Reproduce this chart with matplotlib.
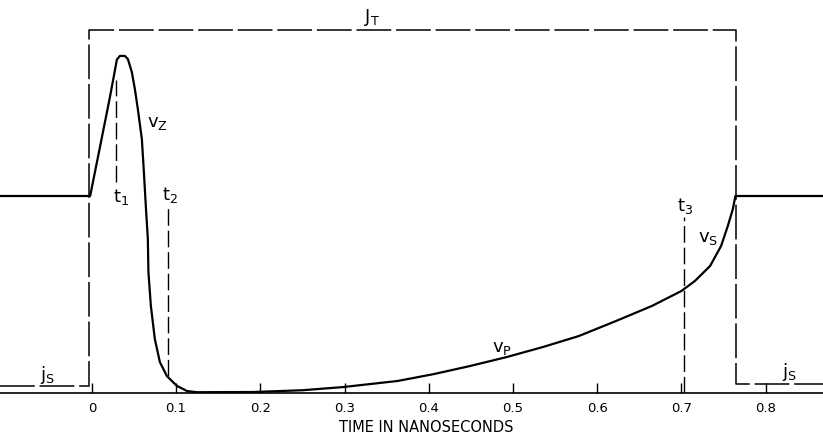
import numpy as np
import matplotlib
matplotlib.use("Agg")
import matplotlib.pyplot as plt

plt.rcParams['font.family'] = ['DejaVu Sans']
plt.rcParams['mathtext.default'] = 'regular'
plt.rcParams['lines.scale_dashes'] = False

# time axis (nanoseconds) and relative level (steady state = 1)
ticks = [0, 0.1, 0.2, 0.3, 0.4, 0.5, 0.6, 0.7, 0.8]
tick_labels = ["0", "0.1", "0.2", "0.3", "0.4", "0.5", "0.6", "0.7", "0.8"]

# voltage curve v_z -> v_p -> v_s
v_t = [-0.109, -0.002, 0.0095, 0.0214, 0.0273, 0.0297, 0.0333, 0.0392, 0.0428,
       0.0475, 0.0511, 0.0546, 0.0594, 0.0618, 0.0641, 0.0665, 0.0672, 0.0701,
       0.0748, 0.0808, 0.0891, 0.101, 0.113, 0.125, 0.191, 0.250, 0.298, 0.363,
       0.406, 0.449, 0.493, 0.536, 0.578, 0.622, 0.665, 0.700, 0.716, 0.734,
       0.747, 0.755, 0.761, 0.764, 0.765, 0.868]
v_y = [1.0, 1.0, 1.245, 1.50, 1.635, 1.692, 1.711, 1.711, 1.695,
       1.629, 1.543, 1.442, 1.289, 1.122, 0.949, 0.782, 0.614, 0.442,
       0.274, 0.157, 0.086, 0.036, 0.010, 0.004, 0.005, 0.014, 0.030, 0.061,
       0.096, 0.137, 0.183, 0.234, 0.289, 0.365, 0.442, 0.518, 0.569, 0.645,
       0.746, 0.848, 0.934, 1.0, 1.0, 1.0]

# current J_T / j_s (dashed)
j_t = [-0.109, -0.003, -0.003, 0.765, 0.765, 0.868]
j_y = [0.036, 0.036, 1.843, 1.843, 0.046, 0.046]

# time markers
mark_t = [0.0285, 0.090, 0.703]
mark_top = [1.59, 0.944, 0.893]
mark_bot = [1.07, 0.086, 0.0]

fig = plt.figure(figsize=(8.23, 4.35), dpi=100)
ax = fig.add_axes([0, 41 / 435, 1, 394 / 435])

ax.plot(v_t, v_y, color='black', lw=1.6, solid_joinstyle='round')
ax.plot(j_t, j_y, color='black', lw=1.1, dashes=(25, 3.5))
for t, a, b in zip(mark_t, mark_top, mark_bot):
    ax.plot([t, t], [b, a], color='black', lw=1.0, dashes=(12, 3.5))

fs = 13
ax.text(0.333, 1.89, r'J$_T$', fontsize=fs, ha='center', va='baseline')
ax.text(0.065, 1.355, r'v$_Z$', fontsize=fs, ha='left', va='baseline')
ax.text(0.025, 0.975, r't$_1$', fontsize=fs, ha='left', va='baseline')
ax.text(0.083, 0.985, r't$_2$', fontsize=fs, ha='left', va='baseline')
ax.text(0.695, 0.929, r't$_3$', fontsize=fs, ha='left', va='baseline')
ax.text(0.720, 0.772, r'v$_S$', fontsize=fs, ha='left', va='baseline')
ax.text(0.475, 0.213, r'v$_P$', fontsize=fs, ha='left', va='baseline')
ax.text(-0.062, 0.07, r'j$_S$', fontsize=fs, ha='left', va='baseline')
ax.text(0.819, 0.085, r'j$_S$', fontsize=fs, ha='left', va='baseline')

ax.text(0.397, -0.085, 'TIME IN NANOSECONDS', fontsize=10.5, ha='center',
        va='center', transform=ax.get_xaxis_transform())

ax.set_xlim(-0.109, 0.868)
ax.set_ylim(0, 2.0)
ax.set_xticks(ticks)
ax.set_xticklabels(tick_labels, fontsize=9.5)
ax.set_yticks([])
ax.tick_params(axis='x', direction='in', length=7.5, width=1.0, pad=6)
for s in ['left', 'right', 'top']:
    ax.spines[s].set_visible(False)
ax.spines['bottom'].set_linewidth(1.2)
ax.patch.set_alpha(0)

fig.savefig("out.png", dpi=100)
